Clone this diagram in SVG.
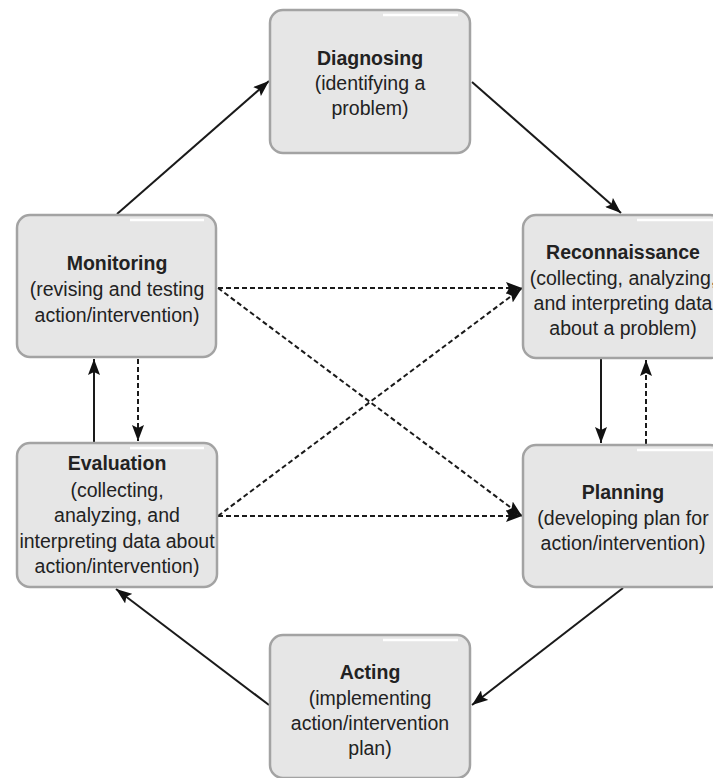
<svg xmlns="http://www.w3.org/2000/svg" width="713" height="778" viewBox="0 0 713 778">
<defs>
<style>
.box{fill:#e6e6e6;stroke:#a3a3a3;stroke-width:2.5}
.hl{stroke:#ffffff;stroke-width:2.5}
text{font-family:"Liberation Sans",Arial,sans-serif;font-size:19.5px;fill:#222;text-anchor:middle}
.t{font-weight:bold}
.c{fill:none;stroke:#1a1a1a;stroke-width:2}
.d{stroke-dasharray:5 3}
</style>
<marker id="ah" markerUnits="userSpaceOnUse" viewBox="0 0 16 12" refX="16" refY="6" markerWidth="16" markerHeight="12" orient="auto">
<path d="M0,0 L16,6 L0,12 L3,6 z" fill="#111"/>
</marker>
</defs>
<rect width="713" height="778" fill="#fff"/>
<g id="connectors">
<path class="c" d="M117,214 L269,81" marker-end="url(#ah)"/>
<path class="c" d="M472,82 L621,213" marker-end="url(#ah)"/>
<path class="c" d="M601,359 L601,443" marker-end="url(#ah)"/>
<path class="c d" d="M646,444 L646,360" marker-end="url(#ah)"/>
<path class="c" d="M623,588 L472,705" marker-end="url(#ah)"/>
<path class="c" d="M269,705 L116,589" marker-end="url(#ah)"/>
<path class="c" d="M94,442 L94,359" marker-end="url(#ah)"/>
<path class="c d" d="M138,359 L138,441" marker-end="url(#ah)"/>
<path class="c d" d="M218,288 L522,288" marker-end="url(#ah)"/>
<path class="c d" d="M218,288 L522,516" marker-end="url(#ah)"/>
<path class="c d" d="M218,516 L522,288" marker-end="url(#ah)"/>
<path class="c d" d="M218,516 L522,516" marker-end="url(#ah)"/>
</g>
<g id="diagnosing">
<rect class="box" x="270" y="10" width="200" height="143" rx="13"/>
<line class="hl" x1="383" y1="15" x2="458" y2="15"/>
<text class="t" x="370" y="65">Diagnosing</text>
<text x="370" y="90">(identifying a</text>
<text x="370" y="115">problem)</text>
</g>
<g id="monitoring">
<rect class="box" x="17" y="215" width="199" height="142" rx="13"/>
<line class="hl" x1="130" y1="220" x2="204" y2="220"/>
<text class="t" x="117" y="270">Monitoring</text>
<text x="117" y="296">(revising and testing</text>
<text x="117" y="322">action/intervention)</text>
</g>
<g id="reconnaissance">
<rect class="box" x="523" y="215" width="200" height="143" rx="13"/>
<line class="hl" x1="637" y1="220" x2="713" y2="220"/>
<text class="t" x="623" y="259">Reconnaissance</text>
<text x="623" y="285">(collecting, analyzing,</text>
<text x="623" y="310">and interpreting data</text>
<text x="623" y="335">about a problem)</text>
</g>
<g id="evaluation">
<rect class="box" x="17" y="443" width="200" height="144" rx="13"/>
<line class="hl" x1="130" y1="448" x2="204" y2="448"/>
<text class="t" x="117" y="470">Evaluation</text>
<text x="117" y="497">(collecting,</text>
<text x="117" y="522">analyzing, and</text>
<text x="117" y="548">interpreting data about</text>
<text x="117" y="573">action/intervention)</text>
</g>
<g id="planning">
<rect class="box" x="523" y="445" width="200" height="142" rx="13"/>
<line class="hl" x1="637" y1="450" x2="713" y2="450"/>
<text class="t" x="623" y="499">Planning</text>
<text x="623" y="525">(developing plan for</text>
<text x="623" y="550">action/intervention)</text>
</g>
<g id="acting">
<rect class="box" x="270" y="635" width="200" height="143" rx="13"/>
<line class="hl" x1="383" y1="640" x2="458" y2="640"/>
<text class="t" x="370" y="679">Acting</text>
<text x="370" y="705">(implementing</text>
<text x="370" y="730">action/intervention</text>
<text x="370" y="755">plan)</text>
</g>
</svg>
